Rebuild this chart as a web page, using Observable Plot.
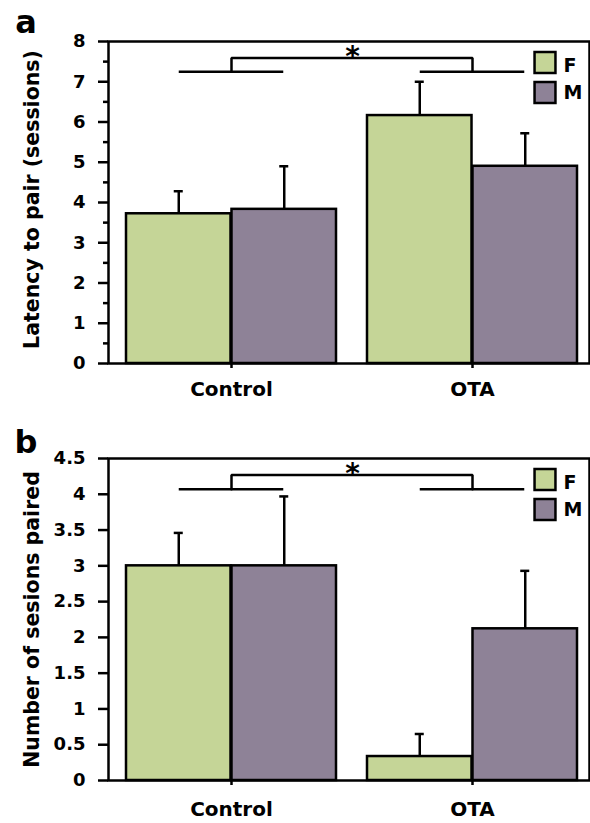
<!DOCTYPE html>
<html>
<head>
<meta charset="utf-8">
<script src="https://cdn.jsdelivr.net/npm/d3@7"></script>
<script src="https://cdn.jsdelivr.net/npm/@observablehq/plot@0.6"></script>
<style>
  body { margin: 0; background: #fff; }
  #chart svg { display: block; }
</style>
</head>
<body>
<div id="chart"></div>
<script>
// ---- shared categories ----
const groups = ["Control", "OTA"];
const sexes = ["F", "M"];
const sexColors = ["#c5d597", "#8e8297"];

// ---- panel a: latency to pair (sessions) ----
const latencyF = [3.72, 6.16];
const latencyM = [3.83, 4.90];
const latencyErrF = [0.56, 0.84];
const latencyErrM = [1.07, 0.82];
const latencyTicks = [0, 1, 2, 3, 4, 5, 6, 7, 8];
const latencyMinorTicks = [0.5, 1.5, 2.5, 3.5, 4.5, 5.5, 6.5, 7.5];
const latencyBracket = [7.25, 7.59];

// ---- panel b: number of sessions paired ----
const pairedF = [3.00, 0.335];
const pairedM = [3.00, 2.12];
const pairedErrF = [0.46, 0.315];
const pairedErrM = [0.97, 0.81];
const pairedTicks = [0, 0.5, 1, 1.5, 2, 2.5, 3, 3.5, 4, 4.5];
const pairedBracket = [4.07, 4.27];

const FONT = '"DejaVu Sans", sans-serif';
const W = 590, ML = 108, MR = 1;
const SW = 2.5;
const PAD_IN = 0.128, PAD_OUT = 0.058, ALIGN = 0.6;
// same band computation Plot performs for the x scale
const bw = d3.scaleBand().domain(groups).range([ML, W - MR])
  .paddingInner(PAD_IN).paddingOuter(PAD_OUT).align(ALIGN).bandwidth();

function panel({letter, letterDy, ylabel, ylabelDy, values, errs, ticks, minor, bracket, domain,
                height, marginTop, marginBottom, xPad}) {
  const rows = sexes.map((s, k) => groups.map((g, i) => ({
    group: g, sex: s, value: values[k][i], hi: values[k][i] + errs[k][i]
  })));
  const marks = [];
  rows.forEach((r, k) => {
    marks.push(Plot.barY(r, {
      x: "group", y: "value", fill: "sex", stroke: "black", strokeWidth: SW,
      insetLeft: k === 0 ? 0 : bw / 2, insetRight: k === 0 ? bw / 2 : 0
    }));
    marks.push(Plot.ruleX(r, {
      x: "group", y1: "value", y2: "hi", dx: k === 0 ? -bw / 4 : bw / 4,
      stroke: "black", strokeWidth: SW
    }));
    marks.push(Plot.tickY(r, {
      x: "group", y: "hi", stroke: "black", strokeWidth: SW,
      insetLeft: k === 0 ? bw / 4 - 5 : 3 * bw / 4 - 5,
      insetRight: k === 0 ? 3 * bw / 4 - 5 : bw / 4 - 5
    }));
  });
  // significance bracket
  marks.push(Plot.tickY(groups, {
    x: d => d, y: () => bracket[0], stroke: "black", strokeWidth: SW,
    insetLeft: bw / 4, insetRight: bw / 4
  }));
  const pts = [
    {group: groups[0], y: bracket[0]}, {group: groups[0], y: bracket[1]},
    {group: groups[1], y: bracket[1]}, {group: groups[1], y: bracket[0]}
  ];
  marks.push(Plot.line(pts, {x: "group", y: "y", stroke: "black", strokeWidth: SW, strokeLinejoin: "miter"}));
  marks.push(Plot.text([bracket[1]], {
    y: d => d, text: () => "*", frameAnchor: "middle", dx: 3.5, dy: -1,
    fontSize: 28, fontWeight: "bold", fill: "black"
  }));
  // axes
  if (minor) {
    marks.push(Plot.axisY({ticks: minor, tickSize: 5, strokeWidth: SW, tickFormat: () => "", label: null}));
  }
  marks.push(Plot.axisY({
    ticks, tickSize: 10, tickPadding: 13, strokeWidth: SW, fontSize: 18, fontWeight: "bold",
    tickFormat: d => String(d), label: null
  }));
  marks.push(Plot.axisX({
    tickSize: 5, tickPadding: xPad, strokeWidth: SW, fontSize: 20, fontWeight: "bold", label: null
  }));
  marks.push(Plot.frame({stroke: "black", strokeWidth: SW}));
  // y label and panel letter
  marks.push(Plot.text([ylabel], {
    text: d => d, frameAnchor: "left", rotate: -90, dx: -76, dy: ylabelDy,
    fontSize: 20.5, fontWeight: "bold", textAnchor: "middle", lineAnchor: "middle", fill: "black"
  }));
  marks.push(Plot.text([letter], {
    text: d => d, frameAnchor: "top-left", dx: 25.5 - ML, dy: letterDy,
    fontSize: 32, fontWeight: "bold", textAnchor: "middle", lineAnchor: "middle", fill: "black"
  }));
  // legend inside the frame
  sexes.forEach((s, k) => {
    marks.push(Plot.dot([s], {
      frameAnchor: "top-right", dx: -44.5, dy: 21 + 30 * k, symbol: "square", r: 11.8,
      fill: sexColors[k], stroke: "black", strokeWidth: SW
    }));
    marks.push(Plot.text([s], {
      text: d => d, frameAnchor: "top-right", dx: -26, dy: 24.5 + 27 * k,
      textAnchor: "start", lineAnchor: "middle", fontSize: 19, fontWeight: "bold", fill: "black"
    }));
  });
  return Plot.plot({
    width: W, height, marginLeft: ML, marginRight: MR, marginTop, marginBottom,
    style: {fontFamily: FONT, fontWeight: "bold", background: "white", color: "black", overflow: "visible"},
    x: {domain: groups, paddingInner: PAD_IN, paddingOuter: PAD_OUT, align: ALIGN, label: null},
    y: {domain, label: null},
    color: {domain: sexes, range: sexColors},
    marks
  });
}

const chart = document.getElementById("chart");
chart.append(panel({
  letter: "a", letterDy: -19, ylabel: "Latency to pair (sessions)", ylabelDy: -3,
  values: [latencyF, latencyM], errs: [latencyErrF, latencyErrM],
  ticks: latencyTicks, minor: latencyMinorTicks, bracket: latencyBracket, domain: [0, 8],
  height: 410, marginTop: 41, marginBottom: 47, xPad: 13
}));
chart.append(panel({
  letter: "b", letterDy: -16, ylabel: "Number of sesions paired", ylabelDy: 0,
  values: [pairedF, pairedM], errs: [pairedErrF, pairedErrM],
  ticks: pairedTicks, minor: null, bracket: pairedBracket, domain: [0, 4.5],
  height: 413, marginTop: 48, marginBottom: 43, xPad: 16
}));
</script>
</body>
</html>
